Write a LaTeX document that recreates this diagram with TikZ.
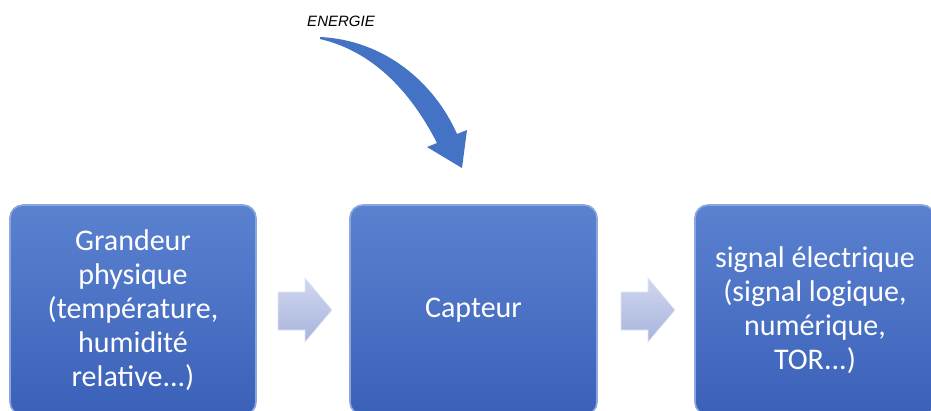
\documentclass[tikz,border=0pt]{standalone}
\usepackage{fontspec}
\setmainfont{Carlito}
\newfontfamily\labelfont{Liberation Sans}
\usetikzlibrary{calc}
\definecolor{boxtop}{HTML}{5B82D0}
\definecolor{boxbot}{HTML}{3A61B8}
\definecolor{boxedge}{HTML}{8CA6DF}
\definecolor{arrtop}{HTML}{D0D7EF}
\definecolor{arrbot}{HTML}{A7B3DC}
\definecolor{curvecol}{HTML}{4472C4}
\tikzset{
  stagebox/.style={rectangle, rounded corners=13pt, draw=boxedge, line width=1.6pt,
    top color=boxtop, bottom color=boxbot, text=white, align=center,
    font=\fontsize{30}{34}\selectfont, inner sep=0pt},
  blockarrow/.style={top color=arrtop, bottom color=arrbot, draw=arrtop!60!white, line width=0.6pt},
}
\begin{document}
\begin{tikzpicture}[x=1pt,y=-1pt]
\useasboundingbox (0,0) rectangle (931,410);
\clip (0,0) rectangle (931,410);
\fill[white] (0,0) rectangle (931,410);

% the three stages
\node[stagebox, minimum width=246pt, minimum height=210pt] (grandeur) at (133,310)
  {Grandeur\\physique\\(température,\\humidité\\relative...)};
\node[stagebox, minimum width=247pt, minimum height=210pt] (capteur) at (473.5,310)
  {Capteur};
\node[stagebox, minimum width=240pt, minimum height=210pt] (signal) at (815,310)
  {signal électrique\\(signal logique,\\numérique,\\TOR...)};

% block arrows between stages
\coordinate (m1) at ($(grandeur.east)!0.5!(capteur.west)+(2,0)$);
\coordinate (m2) at ($(capteur.east)!0.5!(signal.west)+(2,0)$);
\foreach \m in {m1,m2}
  \path[blockarrow, shift={(\m)}]
    (-27,-18) -- (0,-18) -- (0,-32) -- (27,0) -- (0,32) -- (0,20) -- (-27,20) -- cycle;

% energy input
\node[font=\labelfont\itshape\fontsize{15}{17}\selectfont, inner sep=0pt] (energie) at (341,21) {ENERGIE};
\fill[curvecol]
  (320,37) .. controls (384,40) and (434,82) .. (457,134)
  -- (467,130) -- (462,168) -- (427,147) -- (437,143)
  .. controls (413,96) and (376,52) .. (320,39) -- cycle;
\end{tikzpicture}
\end{document}
